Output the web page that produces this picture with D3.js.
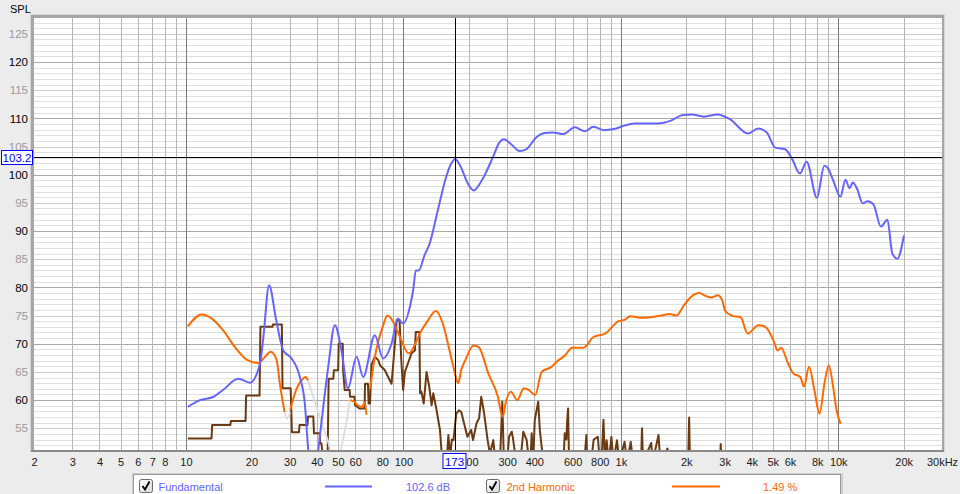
<!DOCTYPE html>
<html><head><meta charset="utf-8">
<script src="https://cdn.jsdelivr.net/npm/d3@7/dist/d3.min.js"></script>
<style>
html,body{margin:0;padding:0;background:#ececec;}
svg{display:block;font-family:"Liberation Sans",Arial,sans-serif;}
</style></head>
<body>
<svg id="chart" width="960" height="494"></svg>
<script>
// ---------- DATA ----------
const fundamental = [[10.2,58.8],[11.6,60.0],[13.4,60.6],[14.8,61.8],[17.4,63.8],[19.7,63.1],[21.9,66.5],[22.7,71.2],[24.1,80.4],[26.0,74.2],[28,68.8],[30.6,67.4],[33.4,64.1],[35.2,59.4],[36.5,51.2],[37.6,46.5],[39.4,46.5],[40.6,51.2],[42.8,58.8],[45.1,65.9],[48.4,73.3],[51.9,68.8],[55.6,62.1],[60.9,67.7],[65.3,64.1],[73.9,71.5],[80.6,67.4],[88.2,70.0],[94.4,74.5],[99.5,73.6],[108.7,77.7],[111,79.6],[114,83.0],[117.7,83.0],[125,85.7],[131.9,87.7],[143.8,93.6],[157,99.5],[165.5,101.9],[173,102.8],[184,101.3],[198,98.4],[210,97.2],[231,99.2],[258,103.1],[276,105.7],[290,106.3],[313,105.4],[342,104.2],[367,104.5],[408,106.6],[446,107.4],[488,107.5],[542,107.2],[615,108.4],[684,107.7],[748,108.5],[834,107.9],[930,108.1],[1036,108.7],[1152,109.1],[1280,109.1],[1475,109.1],[1700,109.6],[1926,110.6],[2123,110.7],[2409,110.3],[2786,110.7],[3160,109.9],[3850,107.3],[4280,108.2],[4690,107.5],[5130,104.8],[5700,104.5],[6130,102.8],[6660,100.2],[7150,102.3],[7980,95.9],[8630,101.6],[8950,101.2],[9430,99.2],[10230,96.1],[10790,99.1],[11270,97.6],[11670,98.6],[12200,97.5],[12960,94.9],[13640,95.3],[14530,94.7],[15700,90.8],[16830,92.0],[17730,86.0],[18700,85.1],[20040,89.2]];

const harmonic2Segments = [
  [[10.2,73.1],[11.8,75.2],[13.1,74.5],[14.8,72.4],[16.8,69.4],[19.0,67.2],[21.5,66.6],[23.0,67.6],[24.5,68.6],[26.1,67.2],[27,63],[28.4,57.9]],
  [[30.1,58.2],[32.3,62.1],[34.5,63.8],[35.5,64.1],[36.4,63.5]],
  [[56.8,60.0],[59.6,59.7],[61.5,59.1],[64.5,58.8],[66.5,59.6],[67.6,57.4]],
  [[70.4,62.0],[71.5,64.1],[74.9,68.8],[80.3,73.0],[84.5,75.0],[90.6,73.6],[97.1,70.9],[105.8,68.3],[113.4,70.0],[119,71.8],[130,74.2],[141,75.8],[152,73.5],[163,68.8],[172,65],[178.5,63.0],[185,65.5],[192.7,67.1],[210,69.7],[222,69.4],[246,64.7],[272,60.6],[286,57.0],[296,59.7],[312,61.5],[334,60],[358,62.1],[377,61.8],[404,60.9],[432,65.0],[480,65.9],[507,66.8],[556,68.0],[596,69.3],[674,69.3],[748,71.2],[846,71.8],[976,74.0],[1046,74.3],[1102,74.9],[1247,74.6],[1540,75.0],[1680,75.3],[1800,75.0],[1950,76.8],[2100,78.3],[2300,79.0],[2450,78.5],[2600,78.2],[2800,78.6],[2950,77.3],[3010,75.9],[3240,75],[3560,74.7],[3830,71.8],[4290,73.3],[4620,73.0],[5070,70.3],[5260,68.8],[5460,69.3],[5880,66.5],[6220,64.7],[6690,64.1],[6950,62.4],[7340,65.9],[7760,61.8],[8200,57.6],[8660,63.2],[9040,66.2],[9470,62.4],[9820,58.2],[10260,55.8]]
];

const harmonic2Faded = [
  [[28.4,57.9],[29.2,56.7],[30.1,57.8]],
  [[36.4,63.5],[38.5,60.6],[42.2,55.9],[45.8,51.7],[48,48.5],[50,48.2],[51.9,51.7],[54.6,55.9],[56.8,60.0]]
];

const noiseFloor = [[10.2,53.2],[13.1,53.2],[13.2,55.6],[16.0,55.6],[16.1,56.3],[18.8,56.3],[18.9,60.8],[21.8,60.8],[22.0,73.0],[25.0,73.0],[25.1,73.4],[27.6,73.4],[27.8,62.1],[30.3,62.1],[30.7,54.3],[33.1,54.3],[33.3,55.6],[36.2,55.6],[36.4,57.1],[38.5,57.1],[38.8,54.1],[41.2,54.1],[41.4,52.3],[42.0,52.3],[42.8,49],[44.8,49],[45.3,63.8],[47.6,63.8],[47.9,65.3],[50.1,65.3],[50.4,70],[52.6,70],[52.8,65.3],[53.7,61.8],[56.6,61.8],[56.8,60.6],[59.6,60.6],[59.9,59.1],[61.5,58.8],[62.8,58.5],[66.3,58.5],[66.6,62.9],[68.7,62.9],[69.2,59.4],[70.2,59.4],[71.3,66.2],[73.9,67.7],[76.6,67.1],[78,66.2],[82.2,65.3],[85.1,64.1],[88.2,62.9],[91.4,70],[93.2,74.2],[96,74.2],[97.8,67.1],[99.7,61.8],[101.6,65.0],[104.9,66.5],[108.9,68.3],[112.9,68.8],[114,72.1],[118.5,72.1],[119.3,61.2],[121,61.5],[124,59.4],[127.8,65.0],[131.4,62.4],[134.8,59.1],[137.2,61.2],[141.2,58.8],[147.3,54.7],[150,50.5],[152,49],[158,49],[161,53.8],[164,50],[167,53],[170,52.9],[175,57.6],[180,58.2],[184.6,57.9],[190,55.9],[197,53.5],[205,54.7],[209,52.9],[217,55.9],[223,56.8],[228,60.6],[234.6,57.9],[244,52.9],[250,50.5],[259,52.9],[265,49],[278,49],[285,59.7],[290,49],[300,49],[306,53.5],[315,54.4],[320,52.9],[330,49],[345,49],[356,54.4],[369,52.9],[378,49],[384,49],[389,54.1],[395,49],[402,56.5],[417,59.7],[424,54.7],[440,49],[545,49],[552,54.1],[562,53],[566,56],[572,58.5],[578,49],[680,49],[694,53.8],[700,49],[730,49],[750,53],[784,53.5],[800,49],[815,49],[832,56.5],[845,49],[860,52.9],[880,49],[905,53.5],[925,49],[960,52.9],[985,49],[1040,52.6],[1070,49],[1110,52.6],[1140,49],[1240,49],[1251,55.0],[1265,49],[1380,52.4],[1400,49],[1490,53.8],[1520,49],[1640,51.4],[1660,49],[2040,49],[2061,56.9],[2080,49],[2860,49],[2880,52.2],[2900,49]];

const xTickValues = [2,3,4,5,6,7,8,10,20,30,40,50,60,80,100,200,300,400,600,800,1000,2000,3000,4000,5000,6000,8000,10000,20000,30000];
const xTickLabels = ["2","3","4","5","6","7","8","10","20","30","40","50","60","80","100","200","300","400","600","800","1k","2k","3k","4k","5k","6k","8k","10k","20k","30kHz"];
const yTickValues = [55,60,65,70,75,80,85,90,95,100,105,110,115,120,125];

const cursorFreq = 173;
const cursorLevel = 103.2;
const legendNames = ["Fundamental","2nd Harmonic"];
const legendValues = ["102.6 dB","1.49 %"];

// ---------- LAYOUT ----------
const L = 34, R = 942, T = 18, B = 450;
const svg = d3.select("#chart");
const x = d3.scaleLog().domain([2,30000]).range([L,R]);
const y = d3.scaleLinear().domain([51.15,127.8]).range([B,T]);

const BLUE = "#6464ff", ORANGE = "#ff6a00", BROWN = "#6b3912";

// background
svg.append("rect").attr("width",960).attr("height",494).attr("fill","#ececec");
// frame shadow
svg.append("rect").attr("x",L-4).attr("y",T-4).attr("width",R-L+7).attr("height",B-T+6).attr("fill","#d6d6d6");
svg.append("rect").attr("x",L-3).attr("y",T-3).attr("width",R-L+5).attr("height",B-T+5).attr("fill","#a6a6a6");
svg.append("rect").attr("x",L).attr("y",T).attr("width",R-L).attr("height",B-T).attr("fill","#ffffff");

// horizontal grid (1 dB)
const g = svg.append("g");
for (let v = 52; v <= 127; v++) {
  const col = v % 10 === 0 ? "#a8a8a8" : (v % 5 === 0 ? "#cdcdcd" : "#e0e0e0");
  g.append("line").attr("x1",L).attr("x2",R).attr("y1",Math.round(y(v))+0.5).attr("y2",Math.round(y(v))+0.5)
   .attr("stroke",col).attr("stroke-width",1);
}
// vertical grid
const vgrid = [];
for (let dec = 1; dec <= 10000; dec *= 10) for (let m = 1; m <= 9; m++) { const f = m*dec; if (f >= 2 && f <= 30000) vgrid.push(f); }
vgrid.push(20000, 30000);
vgrid.forEach(f => {
  const decade = Math.abs(Math.log10(f) - Math.round(Math.log10(f))) < 1e-9;
  if (f >= 30000 || f<=2) return;
  g.append("line").attr("y1",T).attr("y2",B).attr("x1",Math.round(x(f))+0.5).attr("x2",Math.round(x(f))+0.5)
   .attr("stroke",decade ? "#7c7c7c" : "#b6b6b6").attr("stroke-width",1);
});

// clip
svg.append("clipPath").attr("id","plotclip").append("rect").attr("x",L).attr("y",T).attr("width",R-L).attr("height",B-T);
const plot = svg.append("g").attr("clip-path","url(#plotclip)");

const lineGen = d3.line().x(d => x(d[0])).y(d => y(d[1]));
const smooth = d3.line().x(d => x(d[0])).y(d => y(d[1])).curve(d3.curveMonotoneX);

plot.append("path").datum(noiseFloor).attr("d",lineGen).attr("fill","none").attr("stroke",BROWN).attr("stroke-width",2).attr("stroke-linejoin","round");
harmonic2Faded.forEach(seg => plot.append("path").datum(seg).attr("d",smooth).attr("fill","none").attr("stroke","#dedede").attr("stroke-width",2));
harmonic2Segments.forEach(seg => plot.append("path").datum(seg).attr("d",smooth).attr("fill","none").attr("stroke",ORANGE).attr("stroke-width",2).attr("stroke-linejoin","round"));
plot.append("path").datum(fundamental).attr("d",smooth).attr("fill","none").attr("stroke",BLUE).attr("stroke-width",2).attr("stroke-linejoin","round");

// cursor lines
const cx = Math.round(x(cursorFreq))+0.5, cy = Math.round(y(cursorLevel))+0.5;
plot.append("line").attr("x1",cx).attr("x2",cx).attr("y1",T).attr("y2",B).attr("stroke","#000").attr("stroke-width",1);
plot.append("line").attr("x1",L).attr("x2",R).attr("y1",cy).attr("y2",cy).attr("stroke","#000").attr("stroke-width",1);

// bottom edge line
svg.append("line").attr("x1",L-3).attr("x2",R+2).attr("y1",B+1).attr("y2",B+1).attr("stroke","#8a8a8a").attr("stroke-width",2);

// axes
const xAxis = d3.axisBottom(x).tickValues(xTickValues).tickFormat((d,i) => xTickLabels[i]).tickSize(0).tickPadding(8);
const xg = svg.append("g").attr("transform",`translate(0,${B})`).call(xAxis);
xg.select(".domain").remove();
xg.selectAll("text").attr("fill","#1a1a1a").style("font-size","11px").style("font-family","'Liberation Sans',Arial,sans-serif");

const yAxis = d3.axisLeft(y).tickValues(yTickValues).tickFormat(d3.format("d")).tickSize(0).tickPadding(6);
const yg = svg.append("g").attr("transform",`translate(${L},0)`).call(yAxis);
yg.select(".domain").remove();
yg.selectAll("text").attr("fill",d => d % 10 === 0 ? "#000" : "#9a9a9a").style("font-size","11.5px").style("font-family","'Liberation Sans',Arial,sans-serif");

svg.append("text").attr("x",10).attr("y",13).text("SPL").attr("fill","#000").style("font-size","11px");

// cursor labels
svg.append("rect").attr("x",1.5).attr("y",cy-7).attr("width",31).attr("height",14).attr("fill","#fff").attr("stroke","#0000ff");
svg.append("text").attr("x",17).attr("y",cy+4).attr("text-anchor","middle").attr("fill","#0000ff").style("font-size","11.5px").text(String(cursorLevel));
svg.append("rect").attr("x",cx-12.5).attr("y",453.5).attr("width",23).attr("height",15).attr("fill","#fff").attr("stroke","#0000ff");
svg.append("text").attr("x",cx-1).attr("y",465.5).attr("text-anchor","middle").attr("fill","#0000ff").style("font-size","11.5px").text(String(cursorFreq));

// legend
const lg = svg.append("g");
lg.append("rect").attr("x",132).attr("y",473).attr("width",711).attr("height",24).attr("fill","#cfcfcf");
lg.append("rect").attr("x",133.5).attr("y",474.5).attr("width",707).attr("height",22).attr("fill","#fff").attr("stroke","#9a9a9a");
const items = [
  {box:139.5, text:158.5, l1:325, l2:372, val:406, color:BLUE},
  {box:486.5, text:506.5, l1:672, l2:720, val:763, color:ORANGE}
];
const grad = svg.append("defs").append("linearGradient").attr("id","cbg").attr("x1",0).attr("y1",0).attr("x2",1).attr("y2",1);
grad.append("stop").attr("offset","0%").attr("stop-color","#ffffff");
grad.append("stop").attr("offset","100%").attr("stop-color","#d8d8d8");
items.forEach((it,i) => {
  lg.append("rect").attr("x",it.box).attr("y",479.5).attr("width",13).attr("height",13).attr("rx",2).attr("fill","url(#cbg)").attr("stroke","#6a6a6a");
  lg.append("path").attr("d",`M${it.box+3},${486} L${it.box+5.5},${489.5} L${it.box+10},${481.5}`).attr("fill","none").attr("stroke","#000").attr("stroke-width",1.8);
  lg.append("text").attr("x",it.text).attr("y",490.5).attr("fill",it.color).style("font-size","11px").text(legendNames[i]);
  lg.append("line").attr("x1",it.l1).attr("x2",it.l2).attr("y1",486.5).attr("y2",486.5).attr("stroke",it.color).attr("stroke-width",2);
  lg.append("text").attr("x",it.val).attr("y",490.5).attr("fill",it.color).style("font-size","11px").text(legendValues[i]);
});
</script>
</body></html>
